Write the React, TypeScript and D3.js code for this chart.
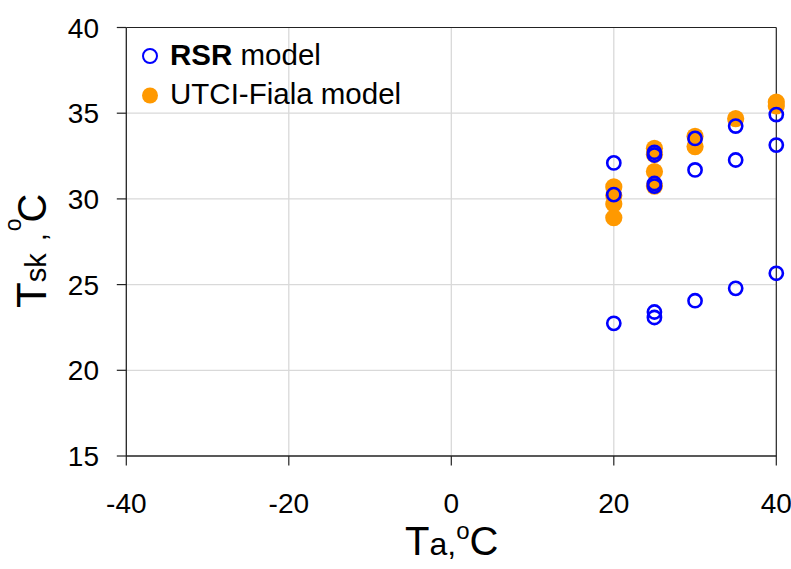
import React from "react";
import * as d3 from "d3";

const xTicks = [-40, -20, 0, 20, 40];
const yTicks = [15, 20, 25, 30, 35, 40];

// RSR model (open blue circles)
const rsrTa = [20, 20, 25, 25, 25, 25, 30, 30, 35, 35, 40, 40, 20, 25, 25, 30, 35, 40];
const rsrTsk = [32.1, 30.25, 32.72, 32.56, 30.9, 30.75, 33.53, 31.69, 34.25, 32.27, 34.92, 33.14, 22.74, 23.4, 23.08, 24.06, 24.78, 25.66];

// UTCI-Fiala model (filled orange circles)
const fialaTa = [20, 20, 20, 20, 25, 25, 25, 25, 30, 30, 35, 40, 40];
const fialaTsk = [30.7, 30.2, 29.7, 28.9, 32.95, 32.6, 31.6, 30.75, 33.65, 33.05, 34.68, 35.65, 35.42];

const W = 791;
const H = 569;
const L = 126.3, R = 776.3, T = 27.5, B = 456;
const FONT = "'Liberation Sans', Arial, Helvetica, sans-serif";

export default function App() {
  const x = d3.scaleLinear().domain([-40, 40]).range([L, R]);
  const y = d3.scaleLinear().domain([15, 40]).range([B, T]);
  const blue = "#0000ff";
  const orange = "#ff9900";
  const axis = "#222";
  const grid = "#d9d9d9";

  return (
    <svg width={W} height={H} style={{ position: "absolute", left: 0, top: 0, background: "#fff" }} fontFamily={FONT}>
      {/* grid */}
      {xTicks.filter((t) => t > -40 && t < 40).map((t) => (
        <line key={"gx" + t} x1={x(t)} x2={x(t)} y1={T} y2={B} stroke={grid} strokeWidth={1.3} />
      ))}
      {yTicks.filter((t) => t > 15 && t < 40).map((t) => (
        <line key={"gy" + t} x1={L} x2={R} y1={y(t)} y2={y(t)} stroke={grid} strokeWidth={1.3} />
      ))}
      {/* frame */}
      <line x1={L} x2={R} y1={T} y2={T} stroke={axis} strokeWidth={1.2} />
      <line x1={R} x2={R} y1={T} y2={B} stroke={axis} strokeWidth={1.2} />
      <line x1={L} x2={L} y1={T} y2={B} stroke={axis} strokeWidth={1.3} />
      <line x1={L} x2={R} y1={B} y2={B} stroke={axis} strokeWidth={1.3} />
      {/* ticks */}
      {yTicks.map((t) => (
        <g key={"ty" + t}>
          <line x1={L - 9.5} x2={L} y1={y(t)} y2={y(t)} stroke={axis} strokeWidth={1.2} />
          <text x={99} y={y(t) + 10} fontSize={28} textAnchor="end" fill="#000">{t}</text>
        </g>
      ))}
      {xTicks.map((t) => (
        <g key={"tx" + t}>
          <line x1={x(t)} x2={x(t)} y1={B} y2={B + 9.5} stroke={axis} strokeWidth={1.2} />
          <text x={x(t)} y={513} fontSize={28} textAnchor="middle" fill="#000">{t}</text>
        </g>
      ))}
      {/* data: orange first, blue on top */}
      {fialaTa.map((v, i) => (
        <circle key={"f" + i} cx={x(v)} cy={y(fialaTsk[i])} r={8.6} fill={orange} />
      ))}
      {rsrTa.map((v, i) => (
        <circle key={"r" + i} cx={x(v)} cy={y(rsrTsk[i])} r={6.6} fill="none" stroke={blue} strokeWidth={2.6} />
      ))}
      {/* legend */}
      <circle cx={150} cy={56} r={7} fill="none" stroke={blue} strokeWidth={2} />
      <text x={170} y={65} fontSize={29.5} fill="#000">
        <tspan fontWeight="bold">RSR</tspan>
        <tspan> model</tspan>
      </text>
      <circle cx={150} cy={95.5} r={8} fill={orange} />
      <text x={170} y={104} fontSize={29.5} fill="#000">UTCI-Fiala model</text>
      {/* x title */}
      <text x={405} y={555} fill="#000">
        <tspan fontSize={40}>T</tspan>
        <tspan fontSize={32}>a,</tspan>
        <tspan fontSize={24} dy={-16}>o</tspan>
        <tspan fontSize={40} dy={16}>C</tspan>
      </text>
      {/* y title */}
      <text transform="translate(46,308) rotate(-90)" fill="#000">
        <tspan fontSize={42}>T</tspan>
        <tspan fontSize={29}>sk</tspan>
        <tspan fontSize={29} dx={4}> ,</tspan>
        <tspan fontSize={23} dy={-25} dx={2}>o</tspan>
        <tspan fontSize={40} dy={25} dx={-4}>C</tspan>
      </text>
    </svg>
  );
}
